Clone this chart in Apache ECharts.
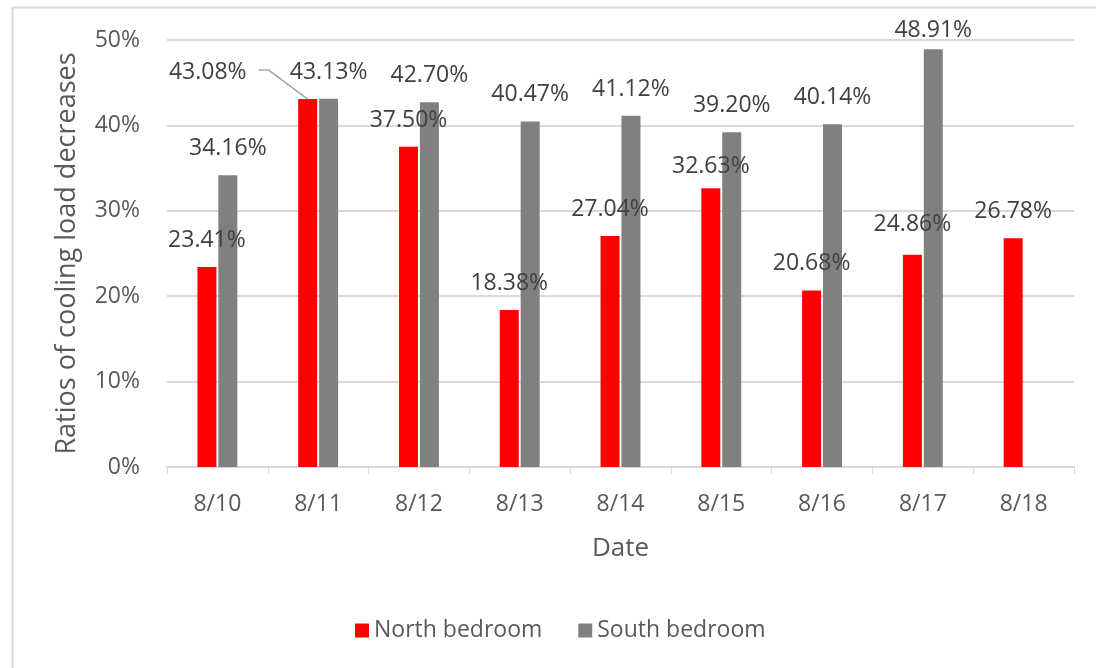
<!DOCTYPE html>
<html>
<head>
<meta charset="utf-8">
<title>Ratios of cooling load decreases</title>
<script src="https://cdn.jsdelivr.net/npm/echarts@6/dist/echarts.min.js"></script>
<style>
  html, body { margin: 0; padding: 0; background: #ffffff; }
  #chart { width: 1096px; height: 668px; }
</style>
</head>
<body>
<div id="chart"></div>
<script>
// Dates of the measurement period
const dates = ['8/10', '8/11', '8/12', '8/13', '8/14', '8/15', '8/16', '8/17', '8/18'];
// Cooling load decrease ratios (%) per bedroom
const northBedroom = [23.41, 43.08, 37.50, 18.38, 27.04, 32.63, 20.68, 24.86, 26.78];
const southBedroom = [34.16, 43.13, 42.70, 40.47, 41.12, 39.20, 40.14, 48.91, null];
// Value axis ticks (%)
const yMin = 0, yMax = 50, yStep = 10;

const textColor = '#595959';
const labelColor = '#404040';
const fontFamily = '"Open Sans", "DejaVu Sans", sans-serif';
const barWidth = 19;
const barGapRatio = 0.1;

// Small per-label nudges [dx, dy] for labels that sit off the default spot
const northNudge = { 1: [-100, 0], 5: [0, 5], 7: [0, -4] };
const southNudge = { 7: [0, 8] };

function buildData(values, nudges) {
  return values.map((v, i) => {
    const item = { value: v };
    if (nudges[i]) item.label = { offset: nudges[i] };
    return item;
  });
}

const pct = p => p.value == null ? '' : p.value.toFixed(2) + '%';

const labelBase = {
  show: true,
  position: 'top',
  distance: 15,
  formatter: pct,
  color: labelColor,
  fontSize: 23,
  fontFamily: fontFamily
};

const chart = echarts.init(document.getElementById('chart'), null, { renderer: 'canvas' });

chart.setOption({
  backgroundColor: '#ffffff',
  animation: false,
  grid: { left: 167, right: 22, top: 40, bottom: 201 },
  legend: {
    left: 350,
    top: 614,
    itemWidth: 14,
    itemHeight: 14,
    itemGap: 36,
    icon: 'rect',
    textStyle: { color: textColor, fontSize: 23, fontFamily: fontFamily },
    data: ['North bedroom', 'South bedroom']
  },
  xAxis: {
    type: 'category',
    data: dates,
    name: 'Date',
    nameLocation: 'middle',
    nameGap: 69,
    nameTextStyle: { color: textColor, fontSize: 26, fontFamily: fontFamily },
    axisLine: { lineStyle: { color: '#d9d9d9', width: 2 } },
    axisTick: { show: true, length: 7, lineStyle: { color: '#d9d9d9', width: 1 } },
    axisLabel: { color: textColor, fontSize: 23, fontFamily: fontFamily, margin: 26 }
  },
  yAxis: {
    type: 'value',
    min: yMin, max: yMax, interval: yStep,
    name: 'Ratios of cooling load decreases',
    nameLocation: 'middle',
    nameGap: 86,
    nameTextStyle: { color: textColor, fontSize: 27, fontFamily: fontFamily },
    axisLine: { show: false },
    axisTick: { show: false },
    splitLine: { lineStyle: { color: '#d9d9d9', width: 2 } },
    axisLabel: { color: textColor, fontSize: 23, fontFamily: fontFamily, margin: 27, formatter: '{value}%' }
  },
  series: [
    {
      name: 'North bedroom',
      type: 'bar',
      barWidth: barWidth,
      barGap: (barGapRatio * 100) + '%',
      itemStyle: { color: '#ff0000' },
      label: labelBase,
      data: buildData(northBedroom, northNudge),
      z: 2
    },
    {
      name: 'South bedroom',
      type: 'bar',
      barWidth: barWidth,
      itemStyle: { color: '#808080' },
      label: labelBase,
      data: buildData(southBedroom, southNudge),
      z: 2
    }
  ]
});

// Outer frame plus the leader line from the moved 8/11 north label to its bar
const [catX, topY] = chart.convertToPixel({ gridIndex: 0 }, [dates[1], northBedroom[1]]);
// North bar sits left of the category centre by half a bar plus half the gap
const barCenter = catX - barWidth * (1 + barGapRatio) / 2;
chart.setOption({
  graphic: [
    {
      type: 'rect',
      left: 10, top: 5,
      shape: { width: 1100, height: 680 },
      style: { fill: 'none', stroke: '#d9d9d9', lineWidth: 2 },
      silent: true
    },
    {
      type: 'polyline',
      shape: {
        points: [
          [barCenter - 49, topY - 29],
          [barCenter - 39, topY - 29],
          [barCenter, topY]
        ]
      },
      style: { fill: 'none', stroke: '#a6a6a6', lineWidth: 1.5 },
      silent: true,
      z: 10
    }
  ]
});
</script>
</body>
</html>
